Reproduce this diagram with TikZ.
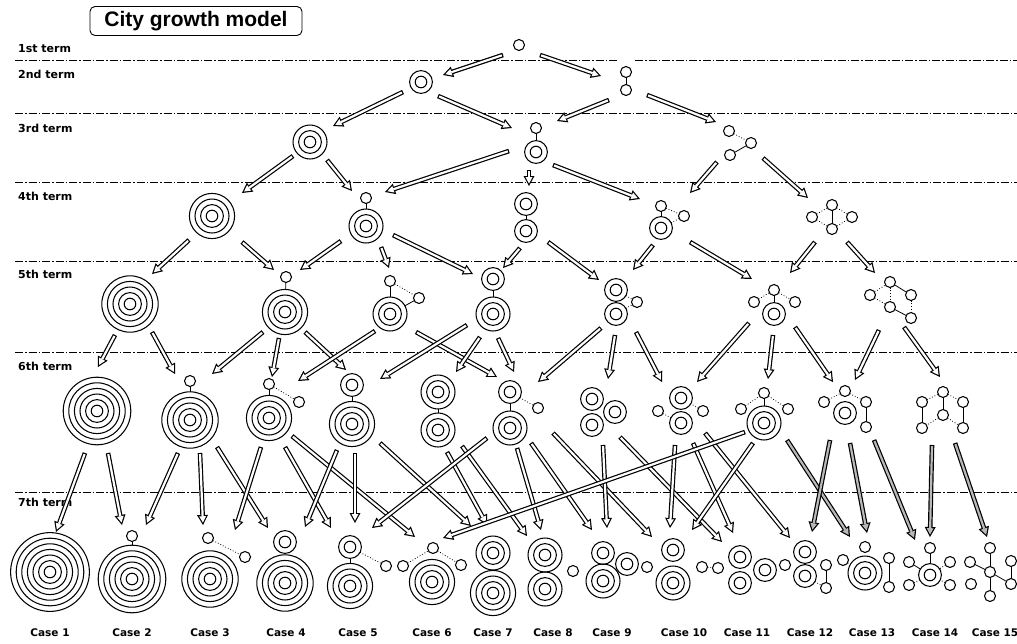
\documentclass[tikz,border=0pt]{standalone}
\usepackage{fontspec}
\newfontfamily\dejavu{DejaVu Sans}
\newfontfamily\arialf{Liberation Sans}
\usetikzlibrary{arrows.meta,calc}

% concentric city of #2 rings, small circle, link between two circles
\newcommand\citymk[2]{\foreach \k in {1,...,#2}{\draw[ring] (#1) circle[radius={5.8+5.6*(\k-1)}];}}
\newcommand\smc[1]{\draw[ring] (#1) circle[radius=5.5];}
\newcommand\clink[5][link]{\draw[#1, shorten <=#4pt, shorten >=#5pt] (#2) -- (#3);}
% hollow growth arrow from node #2 (+offset #3) to node #4 (+offset #5)
\newcommand\harr[5][white]{%
  \draw[arrout] ($(#2)+(#3)$) -- ($(#4)+(#5)$);
  \draw[arrin, #1] ($(#2)+(#3)$) -- ($(#4)+(#5)$);}

\tikzset{
  ring/.style={line width=1.05pt},
  link/.style={line width=0.8pt},
  dlink/.style={line width=0.8pt, dotted},
  termline/.style={line width=0.8pt, dash pattern=on 8pt off 2pt on 1.5pt off 2pt},
  termlbl/.style={anchor=west, inner sep=0pt, font=\dejavu\bfseries\fontsize{11}{13}\selectfont},
  caselbl/.style={inner sep=0pt, font=\dejavu\bfseries\fontsize{10.5}{12}\selectfont},
  arrout/.style={line width=4.6pt, -{Triangle[length=10pt,width=11pt,line width=0pt]}},
  arrin/.style={line width=2.2pt, -{Triangle[length=6.3pt,width=6.9pt,line width=0pt]},
                shorten >=2.5pt, shorten <=1.2pt},
}

\begin{document}
\begin{tikzpicture}[x=1pt,y=-1pt]
\fill[white] (0,0) rectangle (1017,643);
\useasboundingbox (0,0) rectangle (1017,643);

% title
\node[draw, line width=0.9pt, rounded corners=5pt, minimum width=212pt, minimum height=29pt,
      inner sep=0pt, font=\arialf\bfseries\fontsize{21}{23}\selectfont] (title) at (196,21) {City growth model};

% term separators and labels
\draw[termline] (15,60) -- (617,60);
\draw[termline] (635,60) -- (1017,60);
\foreach \yy in {113,182,261,352,492} \draw[termline] (15,\yy) -- (1017,\yy);
\node[termlbl] (t1) at (18,49) {1st term};
\node[termlbl] (t2) at (18,74) {2nd term};
\node[termlbl] (t3) at (18,128) {3rd term};
\node[termlbl] (t4) at (18,196) {4th term};
\node[termlbl] (t5) at (18,274) {5th term};
\node[termlbl] (t6) at (18,366) {6th term};
\node[termlbl] (t7) at (18,502) {7th term};

% ---- 1st term
\coordinate (n1) at (519,45); \smc{519,45}
% ---- 2nd term
\coordinate (A2) at (421,82); \citymk{421,82}{2}
\coordinate (B2) at (626,81); \smc{626,72}\smc{626,90}\clink{626,72}{626,90}{5.5}{5.5}
% ---- 3rd term
\coordinate (A3) at (310,142); \citymk{310,142}{3}
\coordinate (B3) at (536,140); \smc{536,128}\citymk{536,152}{2}\clink{536,128}{536,152}{5.5}{11.4}
\coordinate (C3) at (737,143); \smc{729,131}\smc{751,143}\smc{730,155}
  \clink[dlink]{729,131}{751,143}{5.5}{5.5}\clink{730,155}{751,143}{5.5}{5.5}
% ---- 4th term
\coordinate (A4) at (212,216); \citymk{212,216}{4}
\coordinate (B4) at (366,218); \smc{366,198}\citymk{366,226}{3}\clink{366,198}{366,226}{5.5}{17}
\coordinate (C4) at (526,217); \citymk{526,204}{2}\citymk{526,231}{2}\clink{526,204}{526,231}{11.4}{11.4}
\coordinate (D4) at (668,217); \smc{661,206}\citymk{661,228}{2}\smc{684,216}
  \clink{661,206}{661,228}{5.5}{11.4}\clink[dlink]{661,206}{684,216}{5.5}{5.5}\clink[dlink]{684,216}{661,228}{5.5}{11.4}
\coordinate (E4) at (832,217); \smc{832,205}\smc{812,217}\smc{852,217}\smc{832,229}
  \clink[dlink]{812,217}{832,205}{5.5}{5.5}\clink[dlink]{832,205}{852,217}{5.5}{5.5}
  \clink[dlink]{812,217}{832,229}{5.5}{5.5}\clink[dlink]{852,217}{832,229}{5.5}{5.5}
  \clink{832,205}{832,229}{5.5}{5.5}
% ---- 5th term
\coordinate (A5) at (130,304); \citymk{130,304}{5}
\coordinate (B5) at (285,300); \smc{286,277}\citymk{285,312}{4}\clink{286,277}{285,312}{5.5}{22.6}
\coordinate (C5) at (397,302); \smc{390,281}\smc{419,298}\citymk{390,314}{3}
  \clink{390,281}{390,314}{5.5}{17}\clink[dlink]{390,281}{419,298}{5.5}{5.5}\clink{419,298}{390,314}{5.5}{17}
\coordinate (D5) at (493,297); \citymk{493,279}{2}\citymk{493,314}{3}\clink{493,279}{493,314}{11.4}{17}
\coordinate (E5) at (622,302); \citymk{616,290}{2}\citymk{616,314}{2}\smc{637,302}
  \clink[dlink]{616,290}{637,302}{11.4}{5.5}\clink[dlink]{616,314}{637,302}{11.4}{5.5}
\coordinate (F5) at (774,302); \smc{774,290}\smc{754,302}\smc{795,302}\citymk{774,314}{2}
  \clink[dlink]{754,302}{774,290}{5.5}{5.5}\clink[dlink]{774,290}{795,302}{5.5}{5.5}\clink{774,290}{774,314}{5.5}{11.4}
\coordinate (G5) at (890,300); \smc{890,282}\smc{870,295}\smc{911,295}\smc{890,307}\smc{911,318}
  \clink[dlink]{870,295}{890,282}{5.5}{5.5}\clink{890,282}{911,295}{5.5}{5.5}\clink[dlink]{890,282}{890,307}{5.5}{5.5}
  \clink[dlink]{870,295}{890,307}{5.5}{5.5}\clink{890,307}{911,318}{5.5}{5.5}\clink[dlink]{911,295}{911,318}{5.5}{5.5}
% ---- 6th term
\coordinate (A6) at (97,411); \citymk{97,411}{6}
\coordinate (B6) at (190,405); \smc{190,381}\citymk{190,420}{5}\clink{190,381}{190,420}{5.5}{28.2}
\coordinate (C6) at (275,408); \smc{269,384}\smc{299,402}\citymk{269,418}{4}
  \clink{269,384}{269,418}{5.5}{22.6}\clink[dlink]{269,384}{299,402}{5.5}{5.5}
\coordinate (D6) at (352,403); \citymk{352,385}{2}\citymk{352,424}{4}\clink{352,385}{352,424}{11.4}{22.6}
\coordinate (E6) at (438,411); \citymk{438,392}{3}\citymk{438,430}{3}\clink{438,392}{438,430}{17}{17}
\coordinate (F6) at (515,410); \citymk{510,392}{2}\smc{538,408}\citymk{510,428}{3}
  \clink{510,392}{510,428}{11.4}{17}\clink[dlink]{510,392}{538,408}{11.4}{5.5}
\coordinate (G6) at (600,412); \citymk{592,399}{2}\citymk{615,412}{2}\citymk{592,425}{2}
\coordinate (H6) at (681,411); \smc{658,411}\citymk{681,398}{2}\citymk{681,423}{2}\smc{703,411}
  \clink[dlink]{658,411}{681,423}{5.5}{11.4}\clink[dlink]{703,411}{681,398}{5.5}{11.4}
\coordinate (I6) at (764,410); \smc{764,393}\smc{741,409}\smc{788,409}\citymk{764,423}{3}
  \clink[dlink]{741,409}{764,393}{5.5}{5.5}\clink[dlink]{764,393}{788,409}{5.5}{5.5}\clink{764,393}{764,423}{5.5}{17}
\coordinate (J6) at (845,410); \smc{845,391}\smc{824,402}\smc{866,402}\smc{866,427}\citymk{845,413}{2}
  \clink[dlink]{824,402}{845,391}{5.5}{5.5}\clink[dlink]{845,391}{866,402}{5.5}{5.5}\clink{866,402}{866,427}{5.5}{5.5}
\coordinate (K6) at (943,410); \smc{943,392}\smc{922,402}\smc{963,402}\smc{943,415}\smc{922,428}\smc{963,428}
  \clink[dlink]{922,402}{943,392}{5.5}{5.5}\clink[dlink]{943,392}{963,402}{5.5}{5.5}\clink{943,392}{943,415}{5.5}{5.5}
  \clink{922,402}{922,428}{5.5}{5.5}\clink{963,402}{963,428}{5.5}{5.5}
  \clink[dlink]{943,415}{922,428}{5.5}{5.5}\clink[dlink]{943,415}{963,428}{5.5}{5.5}
% ---- 7th term: the fifteen cases
\coordinate (Case1) at (50,570); \citymk{50,572}{7}
\coordinate (Case2) at (132,570); \smc{132,536}\citymk{132,579}{6}\clink{132,536}{132,579}{5.5}{33.8}
\coordinate (Case3) at (210,570); \smc{208,538}\smc{245,557}\citymk{210,579}{5}\clink[dlink]{208,538}{245,557}{5.5}{5.5}
\coordinate (Case4) at (286,570); \citymk{285,542}{2}\citymk{285,583}{5}
\coordinate (Case5) at (358,570); \citymk{350,547}{2}\smc{386,566}\citymk{350,586}{4}
  \clink{350,547}{350,586}{11.4}{22.6}\clink[dlink]{350,547}{386,566}{11.4}{5.5}
\coordinate (Case6) at (432,570); \smc{403,566}\smc{433,548}\smc{461,565}\citymk{432,582}{4}
  \clink[dlink]{403,566}{433,548}{5.5}{5.5}\clink[dlink]{433,548}{461,565}{5.5}{5.5}
\coordinate (Case7) at (493,570); \citymk{493,553}{3}\citymk{493,593}{4}
\coordinate (Case8) at (550,570); \citymk{545,555}{3}\citymk{545,589}{3}\smc{573,571}
\coordinate (Case9) at (612,570); \citymk{603,553}{2}\citymk{603,581}{3}\citymk{627,564}{2}\smc{647,567}
\coordinate (Case10) at (684,570); \citymk{673,550}{2}\citymk{673,583}{3}\smc{702,567}\smc{718,568}
  \clink[dlink]{702,567}{718,568}{5.5}{5.5}
\coordinate (Case11) at (747,570); \citymk{740,557}{2}\citymk{740,583}{2}\citymk{765,570}{2}\smc{785,565}
\coordinate (Case12) at (810,570); \citymk{805,552}{2}\citymk{805,576}{2}\smc{826,565}\smc{826,588}
  \clink{826,565}{826,588}{5.5}{5.5}\clink[dlink]{805,576}{826,588}{11.4}{5.5}
\coordinate (Case13) at (868,570); \smc{865,547}\smc{843,560}\citymk{865,573}{3}\smc{889,558}\smc{889,587}
  \clink{889,558}{889,587}{5.5}{5.5}\clink[dlink]{843,560}{865,573}{5.5}{17}
\coordinate (Case14) at (932,570); \smc{930,548}\citymk{930,575}{2}\smc{909,562}\smc{909,585}\smc{950,562}\smc{950,585}
  \clink{930,548}{930,575}{5.5}{11.4}\clink{909,562}{930,575}{5.5}{11.4}\clink[dlink]{950,562}{930,575}{5.5}{11.4}
  \clink[dlink]{909,585}{930,575}{5.5}{11.4}\clink[dlink]{950,585}{930,575}{5.5}{11.4}
\coordinate (Case15) at (992,570); \smc{990,548}\smc{970,562}\smc{990,572}\smc{971,584}\smc{990,596}\smc{1011,561}\smc{1011,584}
  \clink{990,548}{990,572}{5.5}{5.5}\clink{970,562}{990,572}{5.5}{5.5}\clink{990,572}{1011,584}{5.5}{5.5}
  \clink{990,572}{990,596}{5.5}{5.5}\clink{1011,561}{1011,584}{5.5}{5.5}

\foreach \n/\xx in {1/50,2/132,3/210,4/286,5/358,6/432,7/493,8/553,9/612,10/684,11/747,12/810,13/872,14/935,15/995}
  \node[caselbl] (L\n) at (\xx,633) {Case \n};

% ---- growth arrows
\harr{n1}{-16,10}{A2}{22,-7}
\harr{n1}{21,10}{B2}{-25,-5}
\harr{A2}{-18,10}{A3}{23,-16}
\harr{A2}{17,14}{B3}{-24,-12}
\harr{B2}{-17,19}{B3}{21,-19}
\harr{B2}{21,14}{C3}{-21,-21}
\harr{A3}{-17,14}{A4}{30,-23}
\harr{A3}{17,18}{B4}{-14,-27}
\harr{B3}{-27,11}{B4}{19,-26}
\harr{B3}{-7,30}{C4}{3,-31}
\harr{B3}{17,25}{D4}{-28,-18}
\harr{C3}{-20,19}{D4}{22,-24}
\harr{C3}{26,15}{E4}{-24,-19}
\harr{A4}{-23,24}{A5}{22,-30}
\harr{A4}{30,26}{B5}{-11,-30}
\harr{B4}{-25,23}{B5}{15,-30}
\harr{B4}{15,29}{C5}{-8,-34}
\harr{B4}{27,17}{D5}{-20,-23}
\harr{C4}{-6,31}{D5}{10,-29}
\harr{C4}{22,25}{E5}{-23,-22}
\harr{D4}{-15,28}{E5}{11,-32}
\harr{D4}{22,25}{F5}{-22,-23}
\harr{E4}{-17,25}{F5}{16,-29}
\harr{E4}{15,25}{G5}{-15,-27}
\harr{A5}{-15,31}{A6}{1,-44}
\harr{A5}{22,28}{B6}{-15,-31}
\harr{B5}{-22,32}{B6}{22,-31}
\harr{B5}{-6,38}{C6}{-3,-31}
\harr{B5}{20,32}{D6}{-6,-33}
\harr{C5}{-22,29}{C6}{23,-27}
\harr{C5}{19,30}{F6}{-18,-33}
\harr{D5}{-26,28}{D6}{28,-24}
\harr{D5}{-13,40}{E6}{18,-39}
\harr{D5}{5,41}{F6}{-1,-38}
\harr{E5}{-21,26}{F6}{23,-28}
\harr{E5}{-7,33}{G6}{8,-33}
\harr{E5}{14,30}{H6}{-19,-29}
\harr{F5}{-25,21}{H6}{16,-29}
\harr{F5}{-1,33}{I6}{4,-31}
\harr{F5}{21,25}{J6}{-12,-28}
\harr{G5}{-11,30}{J6}{10,-30}
\harr{G5}{14,27}{K6}{-3,-33}
\harr{A6}{-12,42}{Case1}{6,-38}
\harr{A6}{11,42}{Case2}{-10,-45}
\harr{B6}{-12,48}{Case2}{14,-45}
\harr{B6}{10,48}{Case3}{-7,-45}
\harr{B6}{27,42}{Case4}{-18,-42}
\harr{C6}{-14,39}{Case3}{25,-40}
\harr{C6}{10,39}{Case5}{-27,-42}
\harr{C6}{17,28}{Case6}{-17,-33}
\harr{D6}{-15,47}{Case4}{19,-43}
\harr{D6}{3,50}{Case5}{-3,-47}
\harr{D6}{28,40}{Case7}{-22,-44}
\harr{E6}{9,41}{Case7}{-6,-45}
\harr{E6}{24,35}{Case8}{-23,-34}
\harr{F6}{-28,28}{Case5}{14,-42}
\harr{F6}{2,38}{Case8}{-9,-40}
\harr{F6}{16,33}{Case9}{-20,-40}
\harr{F6}{38,23}{Case10}{-32,-33}
\harr{G6}{3,33}{Case9}{-5,-42}
\harr{G6}{20,25}{Case11}{-25,-28}
\harr{H6}{-6,34}{Case10}{-14,-42}
\harr{H6}{12,32}{Case11}{-14,-37}
\harr{H6}{24,22}{Case12}{-20,-32}
\harr{I6}{-19,22}{Case6}{11,-32}
\harr{I6}{-11,33}{Case10}{8,-40}
\harr[gray!55]{I6}{23,30}{Case13}{-18,-33}
\harr[gray!55]{J6}{-15,30}{Case12}{2,-38}
\harr[gray!55]{J6}{5,33}{Case13}{-1,-37}
\harr[gray!55]{J6}{29,30}{Case14}{-17,-30}
\harr[gray!55]{K6}{-11,35}{Case14}{-2,-33}
\harr[gray!55]{K6}{12,33}{Case15}{-5,-33}
\end{tikzpicture}
\end{document}
